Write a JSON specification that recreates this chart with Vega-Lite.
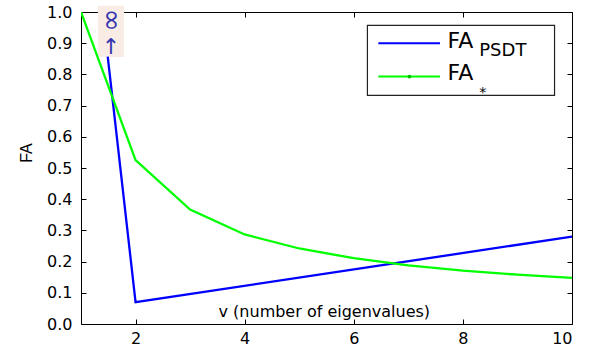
{
  "$schema": "https://vega.github.io/schema/vega-lite/v6.json",
  "width": 491,
  "height": 312,
  "autosize": "none",
  "padding": {"left": 81, "top": 12, "right": 19, "bottom": 24},
  "background": "white",
  "config": {
    "font": "DejaVu Sans",
    "view": {"stroke": "#000", "strokeWidth": 1},
    "axis": {"grid": false, "domain": false, "tickColor": "#000", "tickSize": 5, "offset": -5, "labelColor": "#000", "labelFont": "DejaVu Sans", "labelFontSize": 16, "titleFont": "Liberation Sans", "titleFontWeight": "normal", "titleColor": "#000"}
  },
  "datasets": {
    "series": [
      {"v": 1.49, "fa": 0.857, "s": "PSDT"},
      {"v": 2, "fa": 0.07, "s": "PSDT"},
      {"v": 10, "fa": 0.28, "s": "PSDT"},
      {"v": 1, "fa": 1.0, "s": "star"},
      {"v": 2, "fa": 0.525, "s": "star"},
      {"v": 3, "fa": 0.367, "s": "star"},
      {"v": 4, "fa": 0.287, "s": "star"},
      {"v": 5, "fa": 0.242, "s": "star"},
      {"v": 6, "fa": 0.211, "s": "star"},
      {"v": 7, "fa": 0.188, "s": "star"},
      {"v": 8, "fa": 0.171, "s": "star"},
      {"v": 9, "fa": 0.158, "s": "star"},
      {"v": 10, "fa": 0.148, "s": "star"}
    ],
    "notebg": [{"x1": 1.31, "x2": 1.79, "y1": 0.856, "y2": 1.02}],
    "legbox": [{"x1": 6.25, "x2": 9.68, "y1": 0.733, "y2": 0.957}],
    "leglines": [
      {"x1": 6.45, "x2": 7.58, "y": 0.9, "s": "PSDT"},
      {"x1": 6.45, "x2": 7.58, "y": 0.793, "s": "star"}
    ],
    "legdot": [{"x": 7.02, "y": 0.793}],
    "bigtext": [
      {"x": 7.72, "y": 0.886, "t": "FA"},
      {"x": 7.72, "y": 0.781, "t": "FA"}
    ],
    "subtext": [
      {"x": 8.3, "y": 0.858, "t": "PSDT"}
    ],
    "startext": [
      {"x": 8.3, "y": 0.728, "t": "*"}
    ],
    "inf": [{"x": 1.55, "y": 0.974, "t": "∞"}],
    "arrow": [{"x": 1.55, "y": 0.889, "t": "↑"}],
    "xtitle": [{"x": 5.46, "y": 0.037, "t": "v (number of eigenvalues)"}]
  },
  "layer": [
    {
      "data": {"name": "notebg"},
      "mark": {"type": "rect", "fill": "#f8ece4", "clip": false},
      "encoding": {
        "x": {"field": "x1", "type": "quantitative", "scale": {"domain": [1, 10], "nice": false, "zero": false},
              "axis": {"orient": "bottom", "values": [2, 4, 6, 8, 10], "title": null, "labelPadding": 6}},
        "x2": {"field": "x2"},
        "y": {"field": "y1", "type": "quantitative", "scale": {"domain": [0, 1], "nice": false},
              "axis": {"orient": "left", "values": [0, 0.1, 0.2, 0.3, 0.4, 0.5, 0.6, 0.7, 0.8, 0.9, 1], "title": "FA", "titleFontSize": 16, "titleX": -59.5, "titleY": 140.5, "titleAngle": -90, "titleAlign": "center", "titleBaseline": "middle", "labelPadding": 9}},
        "y2": {"field": "y2"}
      }
    },
    {
      "data": {"name": "series"},
      "mark": {"type": "line", "strokeWidth": 2.3, "clip": true},
      "encoding": {
        "x": {"field": "v", "type": "quantitative", "axis": {"orient": "top", "values": [2, 4, 6, 8, 10], "labels": false, "title": null}},
        "y": {"field": "fa", "type": "quantitative", "axis": {"orient": "right", "values": [0, 0.1, 0.2, 0.3, 0.4, 0.5, 0.6, 0.7, 0.8, 0.9, 1], "labels": false, "title": null}},
        "color": {"field": "s", "type": "nominal", "scale": {"domain": ["PSDT", "star"], "range": ["#0000ff", "#00ff00"]}, "legend": null},
        "order": {"field": "v"}
      }
    },
    {
      "data": {"name": "inf"},
      "mark": {"type": "text", "angle": 90, "fontSize": 28, "color": "#3535b0", "align": "center", "baseline": "middle", "font": "DejaVu Sans", "clip": false},
      "encoding": {
        "x": {"field": "x", "type": "quantitative", "axis": null},
        "y": {"field": "y", "type": "quantitative", "axis": null},
        "text": {"field": "t"}
      }
    },
    {
      "data": {"name": "arrow"},
      "mark": {"type": "text", "fontSize": 22, "color": "#3535b0", "align": "center", "baseline": "middle", "font": "DejaVu Sans"},
      "encoding": {
        "x": {"field": "x", "type": "quantitative", "axis": null},
        "y": {"field": "y", "type": "quantitative", "axis": null},
        "text": {"field": "t"}
      }
    },
    {
      "data": {"name": "xtitle"},
      "mark": {"type": "text", "fontSize": 16, "color": "#000", "align": "center", "baseline": "middle", "font": "DejaVu Sans"},
      "encoding": {
        "x": {"field": "x", "type": "quantitative", "axis": null},
        "y": {"field": "y", "type": "quantitative", "axis": null},
        "text": {"field": "t"}
      }
    },
    {
      "data": {"name": "legbox"},
      "mark": {"type": "rect", "fill": "white", "stroke": "#222", "strokeWidth": 1.2},
      "encoding": {
        "x": {"field": "x1", "type": "quantitative", "axis": null},
        "x2": {"field": "x2"},
        "y": {"field": "y1", "type": "quantitative", "axis": null},
        "y2": {"field": "y2"}
      }
    },
    {
      "data": {"name": "leglines"},
      "mark": {"type": "rule", "strokeWidth": 2},
      "encoding": {
        "x": {"field": "x1", "type": "quantitative", "axis": null},
        "x2": {"field": "x2"},
        "y": {"field": "y", "type": "quantitative", "axis": null},
        "color": {"field": "s", "type": "nominal", "legend": null}
      }
    },
    {
      "data": {"name": "legdot"},
      "mark": {"type": "point", "filled": true, "size": 14, "color": "#00c000", "opacity": 1},
      "encoding": {
        "x": {"field": "x", "type": "quantitative", "axis": null},
        "y": {"field": "y", "type": "quantitative", "axis": null}
      }
    },
    {
      "data": {"name": "bigtext"},
      "mark": {"type": "text", "fontSize": 22, "color": "#000", "align": "left", "baseline": "alphabetic", "font": "DejaVu Sans"},
      "encoding": {
        "x": {"field": "x", "type": "quantitative", "axis": null},
        "y": {"field": "y", "type": "quantitative", "axis": null},
        "text": {"field": "t"}
      }
    },
    {
      "data": {"name": "subtext"},
      "mark": {"type": "text", "fontSize": 18, "color": "#000", "align": "left", "baseline": "alphabetic", "font": "DejaVu Sans"},
      "encoding": {
        "x": {"field": "x", "type": "quantitative", "axis": null},
        "y": {"field": "y", "type": "quantitative", "axis": null},
        "text": {"field": "t"}
      }
    },
    {
      "data": {"name": "startext"},
      "mark": {"type": "text", "fontSize": 14, "color": "#000", "align": "left", "baseline": "alphabetic", "font": "DejaVu Sans"},
      "encoding": {
        "x": {"field": "x", "type": "quantitative", "axis": null},
        "y": {"field": "y", "type": "quantitative", "axis": null},
        "text": {"field": "t"}
      }
    }
  ],
  "resolve": {"axis": {"x": "independent", "y": "independent"}}
}
